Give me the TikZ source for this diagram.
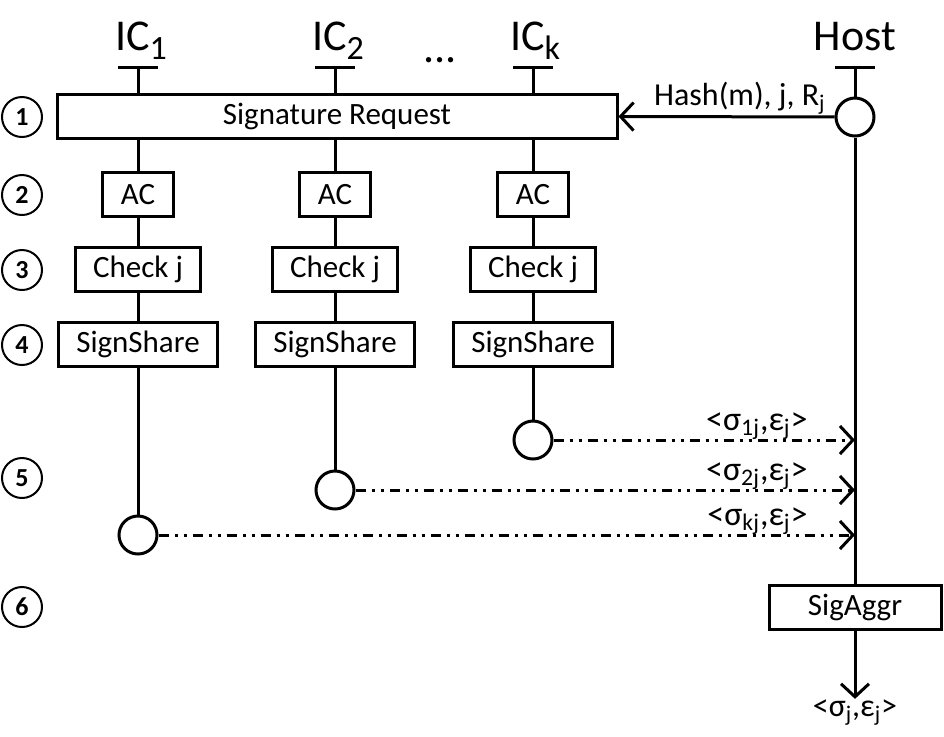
\documentclass[tikz,border=0pt]{standalone}
\usepackage{fontspec}
\setmainfont{Carlito}
\usetikzlibrary{arrows.meta}
\newcommand{\headsub}[1]{\raisebox{-0.22em}{\fontsize{17}{20}\selectfont #1}}
\tikzset{
  lifehead/.style={font=\fontsize{22}{26}\selectfont,inner sep=0pt,anchor=base},
  tickbar/.style={rectangle,fill=black,minimum width=20pt,minimum height=1.5pt,inner sep=0pt},
  stepbox/.style={rectangle,draw=black,line width=1.5pt,fill=white,minimum height=22pt,
    inner xsep=9pt,inner ysep=0pt,font=\fontsize{15.5}{18}\selectfont},
  rownum/.style={circle,draw=black,line width=1pt,minimum size=20pt,inner sep=0pt,
    font=\fontsize{13}{15}\selectfont\bfseries},
  endpt/.style={circle,draw=black,line width=1.5pt,fill=white,minimum size=19pt,inner sep=0pt},
  life/.style={line width=1.5pt},
  msg/.style={-{Straight Barb[length=6.5pt,width=14pt]},line width=1.5pt},
  share/.style={msg,dash pattern=on 5pt off 3pt on 1.5pt off 3pt on 1.5pt off 3pt},
  msglabel/.style={font=\fontsize{16}{19}\selectfont,inner sep=0pt},
  sharelabel/.style={font=\fontsize{17}{20}\selectfont,inner sep=0pt,anchor=base east}
}

\begin{document}
\begin{tikzpicture}[x=0.5pt,y=-0.5pt]
  \useasboundingbox (0,0) rectangle (944,736);

  \node[lifehead] (ic1)  at (141,50) {IC\headsub{1}};
  \node[lifehead] (ic2)  at (338,50) {IC\headsub{2}};
  \node[lifehead] (ick)  at (535,50) {IC\headsub{k}};
  \node[lifehead] (dots) at (440,62) {...};
  \node[lifehead] (host) at (855,50) {Host};

  \node[tickbar] (t1) at (138,67) {};
  \node[tickbar] (t2) at (335,67) {};
  \node[tickbar] (tk) at (533,67) {};
  \node[tickbar] (th) at (855,67) {};

  \node[rownum] (r1) at (22,117) {1};
  \node[rownum] (r2) at (22,195) {2};
  \node[rownum] (r3) at (22,270) {3};
  \node[rownum] (r4) at (22,345) {4};
  \node[rownum] (r5) at (22,478) {5};
  \node[rownum] (r6) at (22,607) {6};

  \node[stepbox,minimum width=280pt] (req) at (337,116.5) {Signature Request};

  \node[stepbox] (ac1)  at (138,194.5) {AC};
  \node[stepbox] (chk1) at (138,269.5) {Check j};
  \node[stepbox] (sgn1) at (138,344.5) {SignShare};
  \node[stepbox] (ac2)  at (335,194.5) {AC};
  \node[stepbox] (chk2) at (335,269.5) {Check j};
  \node[stepbox] (sgn2) at (335,344.5) {SignShare};
  \node[stepbox] (ack)  at (533,194.5) {AC};
  \node[stepbox] (chkk) at (533,269.5) {Check j};
  \node[stepbox] (sgnk) at (533,344.5) {SignShare};

  \node[endpt] (e1) at (138,535) {};
  \node[endpt] (e2) at (335,490) {};
  \node[endpt] (ek) at (533,440) {};
  \node[endpt] (hc) at (855,117) {};

  \node[stepbox,minimum width=86pt] (agg) at (855,607.5) {SigAggr};
  \node[msglabel,anchor=base] (res) at (855,716) {<σ\textsubscript{j},ε\textsubscript{j}>};

  \foreach \i in {1,2,k} {
    \draw[life] (t\i) -- (t\i |- req.north);
    \draw[life] (t\i |- req.south) -- (ac\i) (ac\i) -- (chk\i)
      (chk\i) -- (sgn\i) (sgn\i) -- (e\i);
    \draw[share] (e\i) -- (e\i -| th);
  }

  % host side
  \draw[life] (th) -- (hc);
  \draw[life] (hc) -- (agg);
  \draw[msg] (hc) -- (req.east);
  \draw[msg] (agg) -- (res);

  \node[msglabel,anchor=base east] (hreq) at (826,105) {Hash(m), j, R\textsubscript{j}};
  \node[sharelabel] (sk) at (808,430) {<σ\textsubscript{1j},ε\textsubscript{j}>};
  \node[sharelabel] (s2) at (808,480) {<σ\textsubscript{2j},ε\textsubscript{j}>};
  \node[sharelabel] (s1) at (808,525) {<σ\textsubscript{kj},ε\textsubscript{j}>};
\end{tikzpicture}
\end{document}
